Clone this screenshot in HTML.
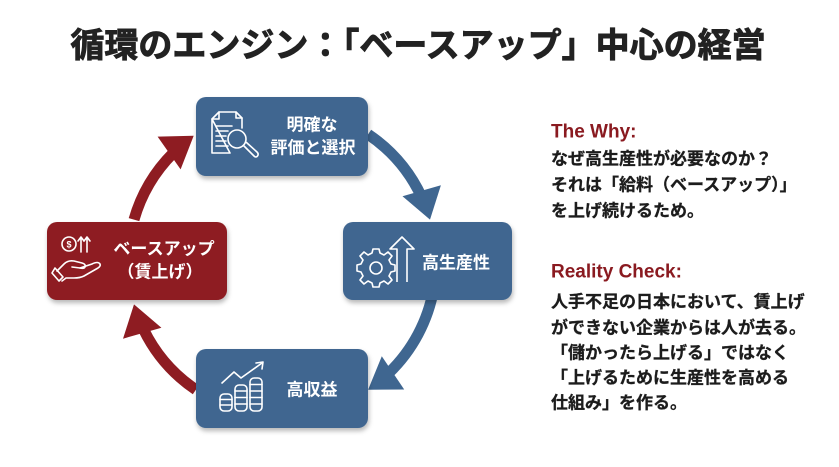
<!DOCTYPE html>
<html>
<head>
<meta charset="utf-8">
<style>
  html,body{margin:0;padding:0;background:#ffffff;}
  body{width:839px;height:467px;overflow:hidden;}
  svg{display:block;}
  text{font-family:"Liberation Sans","Noto Sans CJK JP",sans-serif;font-weight:bold;}
</style>
</head>
<body>
<svg width="839" height="467" viewBox="0 0 839 467" xmlns="http://www.w3.org/2000/svg">
  <defs>
    <filter id="sh" x="-10%" y="-10%" width="125%" height="140%">
      <feDropShadow dx="1" dy="3" stdDeviation="2.5" flood-color="#000" flood-opacity="0.28"/>
    </filter>
  </defs>

  <!-- Title -->
  <text x="418" y="46" font-size="34" fill="#222" stroke="#222" stroke-width="0.9" text-anchor="middle" dominant-baseline="central">循環のエンジン：「ベースアップ」中心の経営</text>

  <!-- Arrows -->
  <path d="M368.1,134.3 A154,154 0 0 1 421.6,196.9" stroke="#3f6690" stroke-width="11" fill="none"/>
  <polygon points="430,219.6 440.9,185.3 402.5,196.3" fill="#3f6690"/>

  <path d="M433.7,288.7 A154,154 0 0 1 389.0,372.8" stroke="#3f6690" stroke-width="11" fill="none"/>
  <polygon points="368.1,389.7 404.2,389.5 381.8,356.3" fill="#3f6690"/>

  <path d="M195.9,389.7 A154,154 0 0 1 143.6,329.5" stroke="#8e1c22" stroke-width="11" fill="none"/>
  <polygon points="134,304.4 123,338.7 161.4,327.7" fill="#8e1c22"/>

  <path d="M134,219.6 A154,154 0 0 1 173.1,153.1" stroke="#8e1c22" stroke-width="11" fill="none"/>
  <polygon points="193.7,135.8 157.6,136.6 180.6,169.4" fill="#8e1c22"/>

  <!-- Boxes -->
  <rect x="196" y="97" width="172" height="79" rx="10" fill="#3f6690" filter="url(#sh)"/>
  <rect x="343" y="222" width="169" height="78" rx="10" fill="#3f6690" filter="url(#sh)"/>
  <rect x="47" y="222" width="180" height="78" rx="10" fill="#8e1c22" filter="url(#sh)"/>
  <rect x="196" y="349" width="172" height="79" rx="10" fill="#3f6690" filter="url(#sh)"/>

  <!-- Top box icon: document + magnifier -->
  <g stroke="#fff" stroke-width="1.6" fill="none" stroke-linejoin="round" stroke-linecap="round">
    <path d="M219,112 L236,112 L242,118 L242,128 M230,153 L212,153 L212,119 Z" />
    <path d="M212,119 L219,112 L219,119 Z"/>
    <path d="M236,112 L236,118 L242,118"/>
    <line x1="216" y1="126" x2="232" y2="126"/>
    <line x1="216" y1="131" x2="228" y2="131"/>
    <line x1="216" y1="136" x2="226" y2="136"/>
    <line x1="216" y1="141" x2="226" y2="141"/>
    <line x1="216" y1="146" x2="228" y2="146"/>
    <circle cx="237" cy="139" r="9"/>
    <path d="M243.5,145.5 L254,156 Q256,158 257.5,156 Q259,154 257,152 L246.5,142.5"/>
  </g>
  <text x="312" y="125" font-size="17" fill="#fff" text-anchor="middle" dominant-baseline="central">明確な</text>
  <text x="313" y="148" font-size="17" fill="#fff" text-anchor="middle" dominant-baseline="central">評価と選択</text>

  <!-- Right box icon: gear + arrow -->
  <g stroke="#fff" stroke-width="1.6" fill="none" stroke-linejoin="round">
    <path d="M373,255 L379,255 L380,259 L384,261 L388,258 L392,262 L389,266 L391,270 L395,271 L395,277 L391,278 L389,282 L392,286 L388,290 L384,287 L380,289 L379,293 L373,293 L372,289 L368,287 L364,290 L360,286 L363,282 L361,278 L357,277 L357,271 L361,270 L363,266 L360,262 L364,258 L368,261 L372,259 Z" transform="translate(0,-6)"/>
    <circle cx="376" cy="268" r="6"/>
    <path d="M397,282 L397,249 L390,249 L402,237 L414,249 L407,249 L407,282"/>
  </g>
  <text x="456" y="263" font-size="17" fill="#fff" text-anchor="middle" dominant-baseline="central">高生産性</text>

  <!-- Left box icon: hand + coin -->
  <g stroke="#fff" stroke-width="1.6" fill="none" stroke-linejoin="round" stroke-linecap="round">
    <circle cx="69" cy="244" r="7"/>
    <text x="69" y="244.5" font-size="9" fill="#fff" stroke="none" text-anchor="middle" dominant-baseline="central">$</text>
    <path d="M81,252 L81,238 M78,241 L81,237 L84,241"/>
    <path d="M87,252 L87,238 M84,241 L87,237 L90,241"/>
    <path d="M57,271 L64,264 Q68,260 74,261 L82,263 Q86,264 85,267 Q84,269 80,268 L72,267"/>
    <path d="M80,268 L92,264 Q98,261 100,264 Q101,266 98,268 L84,276 Q80,278 74,278 L66,278 L62,281"/>
    <path d="M55,268 L63,277 L59,281 L52,273 Z"/>
  </g>
  <text x="164" y="249" font-size="17" fill="#fff" text-anchor="middle" dominant-baseline="central">ベースアップ</text>
  <text x="160" y="272" font-size="17" fill="#fff" text-anchor="middle" dominant-baseline="central">（賃上げ）</text>

  <!-- Bottom box icon: coin stacks + trend -->
  <g stroke="#fff" stroke-width="1.6" fill="none" stroke-linejoin="round" stroke-linecap="round">
    <path d="M222,383 L234,372 L241,378 L262,363"/>
    <path d="M256,363 L263,362 L262,369"/>
    <rect x="220" y="394" width="12" height="17" rx="4"/>
    <line x1="220" y1="399.5" x2="232" y2="399.5"/>
    <line x1="220" y1="405" x2="232" y2="405"/>
    <rect x="235" y="385" width="12" height="26" rx="4"/>
    <line x1="235" y1="391" x2="247" y2="391"/>
    <line x1="235" y1="397.5" x2="247" y2="397.5"/>
    <line x1="235" y1="404" x2="247" y2="404"/>
    <rect x="250" y="378" width="12" height="33" rx="4"/>
    <line x1="250" y1="384.5" x2="262" y2="384.5"/>
    <line x1="250" y1="391" x2="262" y2="391"/>
    <line x1="250" y1="397.5" x2="262" y2="397.5"/>
    <line x1="250" y1="404" x2="262" y2="404"/>
  </g>
  <text x="312" y="390" font-size="17" fill="#fff" text-anchor="middle" dominant-baseline="central">高収益</text>

  <!-- Right side text -->
  <text x="551" y="132" font-size="19" fill="#8a1a20" dominant-baseline="central">The Why:</text>
  <g font-size="17" fill="#1c1c1c" stroke="#1c1c1c" stroke-width="0.3">
    <text x="551" y="159" dominant-baseline="central">なぜ高生産性が必要なのか？</text>
    <text x="551" y="185" dominant-baseline="central">それは「給料（ベースアップ）」</text>
    <text x="551" y="211" dominant-baseline="central">を上げ続けるため。</text>
  </g>

  <text x="551" y="272" font-size="19" fill="#8a1a20" dominant-baseline="central">Reality Check:</text>
  <g font-size="17" fill="#1c1c1c" stroke="#1c1c1c" stroke-width="0.3">
    <text x="551" y="302" dominant-baseline="central">人手不足の日本において、賃上げ</text>
    <text x="551" y="328" dominant-baseline="central">ができない企業からは人が去る。</text>
    <text x="551" y="353" dominant-baseline="central">「儲かったら上げる」ではなく</text>
    <text x="551" y="378" dominant-baseline="central">「上げるために生産性を高める</text>
    <text x="551" y="403" dominant-baseline="central">仕組み」を作る。</text>
  </g>
</svg>
</body>
</html>
